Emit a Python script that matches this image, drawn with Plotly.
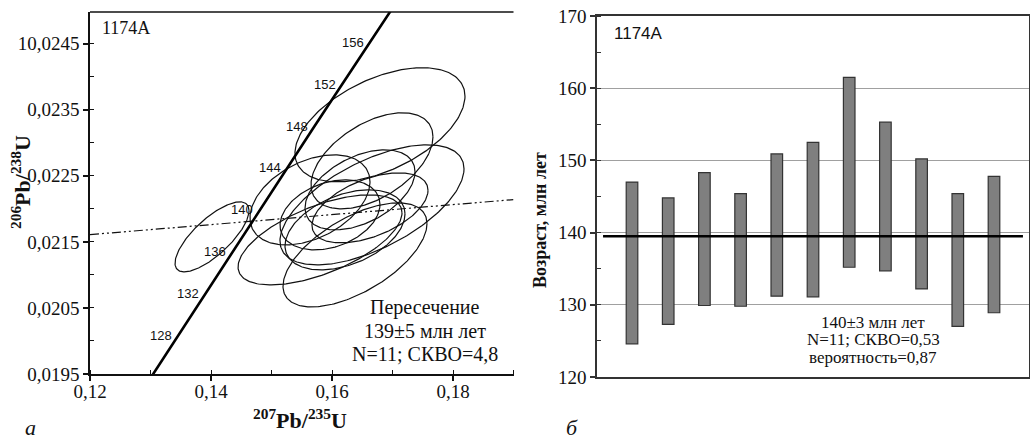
import numpy as np
import plotly.graph_objects as go

# ---------------- data: concordia diagram (left) ----------------
conc_age = [124, 128, 132, 136, 140, 144, 148, 152, 156, 160]
conc_x = [0.12989, 0.13436, 0.13883, 0.14332, 0.14783, 0.15236, 0.15691, 0.16149, 0.16607, 0.17067]
conc_y = [0.019422, 0.020054, 0.020688, 0.021321, 0.021955, 0.022589, 0.023224, 0.023859, 0.024495, 0.025131]
label_ages = [128, 132, 136, 140, 144, 148, 152, 156]

disc_x = [0.12, 0.19]
disc_y = [0.02161, 0.02214]

ell_cx = [0.14017, 0.16793, 0.16661, 0.16661, 0.15636, 0.15802, 0.16380, 0.15967, 0.16215, 0.16463, 0.16628]
ell_cy = [0.021576, 0.023273, 0.022727, 0.022061, 0.022136, 0.021530, 0.021303, 0.021909, 0.021682, 0.022288, 0.022015]
ell_sx = [0.00612, 0.01405, 0.01008, 0.01521, 0.00992, 0.01355, 0.01190, 0.00826, 0.00992, 0.00909, 0.00959]
ell_sy = [0.00053, 0.000864, 0.000727, 0.000909, 0.000682, 0.000682, 0.000788, 0.00053, 0.000606, 0.000606, 0.00053]
ell_rho = [0.75, 0.5, 0.5, 0.6, 0.4, 0.6, 0.6, 0.3, 0.4, 0.45, 0.5]

x_tickvals = [0.12, 0.14, 0.16, 0.18]
x_ticktext = ["0,12", "0,14", "0,16", "0,18"]
y_tickvals = [0.0195, 0.0205, 0.0215, 0.0225, 0.0235, 0.0245]
y_ticktext = ["0,0195", "0,0205", "0,0215", "0,0225", "0,0235", "10,0245"]

# ---------------- data: age bars (right) ----------------
spot = list(range(1, 12))
age_high = [147.0, 144.8, 148.3, 145.4, 150.9, 152.5, 161.5, 155.3, 150.2, 145.4, 147.8]
age_low = [124.6, 127.3, 129.9, 129.8, 131.2, 131.1, 135.2, 134.7, 132.2, 127.0, 128.9]
mean_age = 139.5
age_ticks = [120, 130, 140, 150, 160, 170]

SERIF = "Liberation Serif"
SANS = "Liberation Sans"
W, H = 1030, 442


def px(xp):
    return xp / W


def py(yp):
    return 1 - yp / H


fig = go.Figure()

# ellipses
t = np.linspace(0, 2 * np.pi, 240)
for cx, cy, sx, sy, r in zip(ell_cx, ell_cy, ell_sx, ell_sy, ell_rho):
    ex = cx + sx * np.cos(t)
    ey = cy + sy * (r * np.cos(t) + np.sqrt(1 - r * r) * np.sin(t))
    fig.add_trace(go.Scatter(x=ex, y=ey, mode="lines", line=dict(color="#111", width=1.2),
                             xaxis="x", yaxis="y", showlegend=False, hoverinfo="skip"))

# discordia
fig.add_trace(go.Scatter(x=disc_x, y=disc_y, mode="lines",
                         line=dict(color="#111", width=1.2, dash="9px,3px,2px,3px,2px,3px"),
                         xaxis="x", yaxis="y", showlegend=False))

# concordia
fig.add_trace(go.Scatter(x=conc_x, y=conc_y, mode="lines", line=dict(color="#000", width=2.6),
                         xaxis="x", yaxis="y", showlegend=False))

for a in label_ages:
    i = conc_age.index(a)
    fig.add_annotation(x=conc_x[i], y=conc_y[i], xref="x", yref="y", text=str(a), showarrow=False,
                       xanchor="right", yanchor="middle", xshift=-3, yshift=2,
                       font=dict(family=SANS, size=13, color="#111"))

# bars
fig.add_trace(go.Bar(x=spot, y=[h - l for h, l in zip(age_high, age_low)], base=age_low,
                     width=0.32, marker=dict(color="#7f7f7f", line=dict(color="#333", width=1.2)),
                     xaxis="x2", yaxis="y2", showlegend=False))

fig.update_layout(
    width=W, height=H, margin=dict(l=0, r=0, t=0, b=0, autoexpand=False),
    paper_bgcolor="white", plot_bgcolor="white",
    xaxis=dict(domain=[px(90), px(513.5)], range=[0.12, 0.19], anchor="y", automargin=False,
               tickvals=x_tickvals, ticktext=x_ticktext, ticks="outside", ticklen=5, tickwidth=1.5,
               ticklabelstandoff=-6,
               tickcolor="#111", showline=True, linecolor="#111", linewidth=1.5, showgrid=False,
               zeroline=False, tickfont=dict(family=SERIF, size=19, color="#111"),
               minor=dict(dtick=0.01, tick0=0.12, ticks="inside", ticklen=4, tickcolor="#111", tickwidth=1.2,
                          showgrid=False)),
    yaxis=dict(domain=[py(374), py(12)], range=[0.0195, 0.02498], anchor="x", automargin=False,
               tickvals=y_tickvals, ticktext=y_ticktext, ticks="outside", ticklen=5, tickwidth=1.5,
               tickcolor="#111", showline=True, linecolor="#111", linewidth=1.5, showgrid=False,
               zeroline=False, tickfont=dict(family=SERIF, size=19, color="#111"),
               minor=dict(dtick=0.0005, tick0=0.0195, ticks="inside", ticklen=4, tickcolor="#111", tickwidth=1.2,
                          showgrid=False)),
    xaxis2=dict(domain=[px(597), px(1029)], range=[0.033, 11.967], anchor="y2", automargin=False,
                showticklabels=False, ticks="", showline=True, linecolor="#333", linewidth=1.5,
                mirror=True, showgrid=False, zeroline=False),
    yaxis2=dict(domain=[py(377), py(16)], range=[120, 170], anchor="x2", automargin=False,
                tickvals=age_ticks, ticks="outside", ticklen=5, tickwidth=1.5, tickcolor="#333",
                showline=True, linecolor="#333", linewidth=1.5, mirror=True,
                showgrid=True, gridcolor="#a0a0a0", gridwidth=1.2, zeroline=False,
                tickfont=dict(family=SERIF, size=19, color="#111"),
                minor=dict(dtick=5, tick0=120, ticks="inside", ticklen=4, tickcolor="#333", tickwidth=1.2,
                           showgrid=False)),
)

# top border of left plot
fig.add_shape(type="line", xref="x domain", yref="y domain", x0=0, x1=1, y0=1, y1=1,
              line=dict(color="#111", width=1.5))

# mean line on right plot
fig.add_shape(type="line", xref="x2", yref="y2", x0=0.2, x1=11.8, y0=mean_age, y1=mean_age,
              line=dict(color="#000", width=2.6), layer="above")

# texts
fig.add_annotation(x=px(100), y=py(28), xref="paper", yref="paper", text="1174A", showarrow=False,
                   xanchor="left", yanchor="middle", font=dict(family=SERIF, size=18, color="#111"))
fig.add_annotation(x=px(612), y=py(34), xref="paper", yref="paper", text="1174A", showarrow=False,
                   xanchor="left", yanchor="middle", font=dict(family=SANS, size=17, color="#111"))

for txt, yy in [("Пересечение", 307), ("139±5 млн лет", 331), ("N=11; СКВО=4,8", 354)]:
    fig.add_annotation(x=px(425), y=py(yy), xref="paper", yref="paper", text=txt, showarrow=False,
                       xanchor="center", yanchor="middle", font=dict(family=SERIF, size=20, color="#111"))

for txt, yy in [("140±3 млн лет", 322), ("N=11; СКВО=0,53", 339.5), ("вероятность=0,87", 357)]:
    fig.add_annotation(x=px(873), y=py(yy), xref="paper", yref="paper", text=txt, showarrow=False,
                       xanchor="center", yanchor="middle", font=dict(family=SERIF, size=17, color="#111"))

fig.add_annotation(x=px(300), y=py(419), xref="paper", yref="paper",
                   text="<b><sup>207</sup>Pb/<sup>235</sup>U</b>", showarrow=False,
                   xanchor="center", yanchor="middle", font=dict(family=SERIF, size=22, color="#111"))
fig.add_annotation(x=px(21), y=py(182), xref="paper", yref="paper",
                   text="<b><sup>206</sup>Pb/<sup>238</sup>U</b>", showarrow=False, textangle=-90,
                   xanchor="center", yanchor="middle", font=dict(family=SERIF, size=22, color="#111"))
fig.add_annotation(x=px(540), y=py(220), xref="paper", yref="paper",
                   text="<b>Возраст, млн лет</b>", showarrow=False, textangle=-90,
                   xanchor="center", yanchor="middle", font=dict(family=SERIF, size=18, color="#111"))

fig.add_annotation(x=px(30), y=py(427), xref="paper", yref="paper", text="<i>а</i>", showarrow=False,
                   xanchor="center", yanchor="middle", font=dict(family=SERIF, size=22, color="#111"))
fig.add_annotation(x=px(572), y=py(427), xref="paper", yref="paper", text="<i>б</i>", showarrow=False,
                   xanchor="center", yanchor="middle", font=dict(family=SERIF, size=22, color="#111"))

fig.write_html("out.html", config={"displayModeBar": False},
               post_script="document.body.style.margin='0';document.body.style.overflow='hidden';")
